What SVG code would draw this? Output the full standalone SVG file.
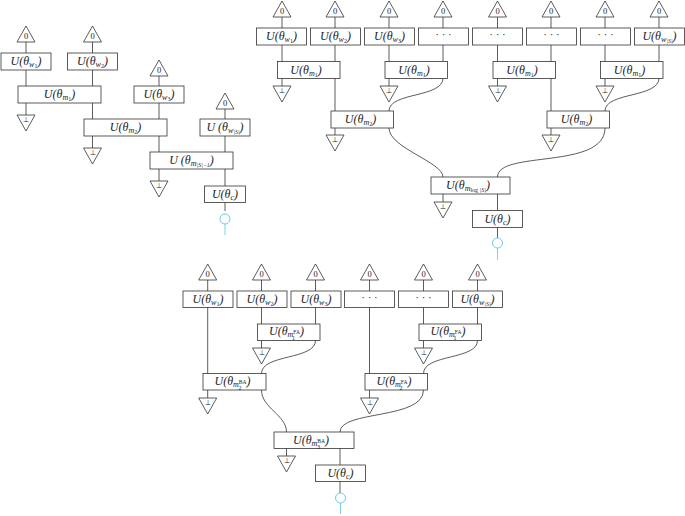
<svg xmlns="http://www.w3.org/2000/svg" width="685" height="516" viewBox="0 0 685 516">
<style>
rect{fill:#fff;stroke:#333;stroke-width:.8}
path{fill:none;stroke:#333;stroke-width:.8}
.tri{fill:#fff}
.q{stroke:#5fc4e0}
circle{fill:#fff;stroke:#5fc4e0;stroke-width:.9}
text{font-family:"Liberation Serif","Times New Roman",serif;font-size:12px;fill:#222;text-anchor:middle;font-style:italic;opacity:.99}
.n{font-style:normal}
.s{font-size:8px}
.ss{font-size:6px}
.d{font-size:6px;font-style:normal}
.sc{font-size:5.500px;font-style:normal}
.dots{font-style:normal;font-size:11px}
</style>
<defs>
<g id="zero"><path class="tri" d="M0 0L9 16H-9Z"/><text class="n" y="12.500" style="font-size:8.500px">0</text></g>
<g id="gnd"><path class="tri" d="M-9 0H9L0 16Z"/><text class="n" y="6.500" style="font-size:7px">⊥</text></g>
</defs>
<g id="connectors">
<path d="M26 42V115M92.500 42V148M159 76V181M225 109V211"/>
<path d="M282 17V86M335 17V111M389 17V86M443 17V62M497.500 17V86M551 17V111M605 17V86M659 17V62"/>
<path d="M443 78C443 98 389 92 389 111M659 78C659 98 605 92 605 111M389 128C389 148 443 162 443 177M443 194V202M605 128C605 170 497.500 150 497.500 177M551 128V135M335 128V135M497.500 194V243"/>
<path d="M207.700 279V398M261.500 279V348M315.500 279V324M369.500 279V398M423.500 279V348M477.500 279V324"/>
<path d="M315.500 340.500C315.500 360 261.500 354 261.500 373.500M477.500 340.500C477.500 360 423.500 354 423.500 373.500M261.500 390C261.500 408 286.500 415 286.500 432M286.500 448V456M423.500 390C423.500 420 340 410 340 432M340 448V493"/>
<path class="q" d="M225 224V235M497.500 248V260M340.500 503V514"/>
</g>
<g id="a-in1"><use href="#zero" x="26" y="26"/><rect x="1" y="53" width="50" height="17"/><text x="26" y="65">U(θ<tspan class="s" dy="2">w<tspan class="d" dy="1">1</tspan></tspan><tspan dy="-3">)</tspan></text></g>
<g id="a-in2"><use href="#zero" x="92.500" y="26"/><rect x="67.500" y="53" width="50" height="17"/><text x="92.500" y="65">U(θ<tspan class="s" dy="2">w<tspan class="d" dy="1">2</tspan></tspan><tspan dy="-3">)</tspan></text></g>
<g id="a-in3"><use href="#zero" x="159" y="60"/><rect x="134" y="86" width="50" height="17"/><text x="159" y="98">U(θ<tspan class="s" dy="2">w<tspan class="d" dy="1">3</tspan></tspan><tspan dy="-3">)</tspan></text></g>
<g id="a-in4"><use href="#zero" x="225" y="93"/><rect x="200" y="119" width="50" height="17"/><text x="225" y="131">U (θ<tspan class="s" dy="2">w<tspan class="ss" dy="1">|S|</tspan></tspan><tspan dy="-3">)</tspan></text></g>
<g id="a-m1"><rect x="18" y="86" width="83" height="17"/><text x="59.500" y="98">U(θ<tspan class="s" dy="2">m<tspan class="d" dy="1">1</tspan></tspan><tspan dy="-3">)</tspan></text><use href="#gnd" x="26" y="115"/></g>
<g id="a-m2"><rect x="84" y="119" width="83" height="17"/><text x="125.500" y="131">U(θ<tspan class="s" dy="2">m<tspan class="d" dy="1">2</tspan></tspan><tspan dy="-3">)</tspan></text><use href="#gnd" x="92.500" y="148"/></g>
<g id="a-m3"><rect x="150" y="152" width="83" height="17"/><text x="191.500" y="164">U (θ<tspan class="s" dy="2">m<tspan class="ss" dy="1">|S|−1</tspan></tspan><tspan dy="-3">)</tspan></text><use href="#gnd" x="159" y="181"/></g>
<g id="a-c"><rect x="204.500" y="186" width="41" height="16.500"/><text x="225" y="198">U(θ<tspan class="s" dy="2">c</tspan><tspan dy="-2">)</tspan></text><circle cx="225" cy="219" r="5"/></g>

<g id="b-in1"><use href="#zero" x="282" y="1"/><rect x="256.500" y="28" width="50" height="17"/><text x="281.500" y="40">U(θ<tspan class="s" dy="2">w<tspan class="d" dy="1">1</tspan></tspan><tspan dy="-3">)</tspan></text></g>
<g id="b-in2"><use href="#zero" x="335" y="1"/><rect x="310.500" y="28" width="50" height="17"/><text x="335.500" y="40">U(θ<tspan class="s" dy="2">w<tspan class="d" dy="1">2</tspan></tspan><tspan dy="-3">)</tspan></text></g>
<g id="b-in3"><use href="#zero" x="389" y="1"/><rect x="364.500" y="28" width="50" height="17"/><text x="389.500" y="40">U(θ<tspan class="s" dy="2">w<tspan class="d" dy="1">3</tspan></tspan><tspan dy="-3">)</tspan></text></g>
<g id="b-in4"><use href="#zero" x="443" y="1"/><rect x="418.500" y="28" width="50" height="17"/><text class="dots" x="443.500" y="38">· · ·</text></g>
<g id="b-in5"><use href="#zero" x="497.500" y="1"/><rect x="472.500" y="28" width="50" height="17"/><text class="dots" x="497.500" y="38">· · ·</text></g>
<g id="b-in6"><use href="#zero" x="551" y="1"/><rect x="526.500" y="28" width="50" height="17"/><text class="dots" x="551.500" y="38">· · ·</text></g>
<g id="b-in7"><use href="#zero" x="605" y="1"/><rect x="580.500" y="28" width="50" height="17"/><text class="dots" x="605.500" y="38">· · ·</text></g>
<g id="b-in8"><use href="#zero" x="659" y="1"/><rect x="634.500" y="28" width="50" height="17"/><text x="659.500" y="40">U(θ<tspan class="s" dy="2">w<tspan class="ss" dy="1">|S|</tspan></tspan><tspan dy="-3">)</tspan></text></g>
<g id="b-m1a"><rect x="277.500" y="61.500" width="62.500" height="17"/><text x="306" y="73.500">U(θ<tspan class="s" dy="2">m<tspan class="d" dy="1">1</tspan></tspan><tspan dy="-3">)</tspan></text><use href="#gnd" x="282" y="86"/></g>
<g id="b-m1b"><rect x="385" y="61.500" width="62.500" height="17"/><text x="414" y="73.500">U(θ<tspan class="s" dy="2">m<tspan class="d" dy="1">1</tspan></tspan><tspan dy="-3">)</tspan></text><use href="#gnd" x="389" y="86"/></g>
<g id="b-m1c"><rect x="493" y="61.500" width="62.500" height="17"/><text x="522" y="73.500">U(θ<tspan class="s" dy="2">m<tspan class="d" dy="1">1</tspan></tspan><tspan dy="-3">)</tspan></text><use href="#gnd" x="497.500" y="86"/></g>
<g id="b-m1d"><rect x="600.500" y="61.500" width="62.500" height="17"/><text x="629.500" y="73.500">U(θ<tspan class="s" dy="2">m<tspan class="d" dy="1">1</tspan></tspan><tspan dy="-3">)</tspan></text><use href="#gnd" x="605" y="86"/></g>
<g id="b-m2a"><rect x="331" y="111" width="62.500" height="17"/><text x="360.500" y="123">U(θ<tspan class="s" dy="2">m<tspan class="d" dy="1">2</tspan></tspan><tspan dy="-3">)</tspan></text><use href="#gnd" x="335" y="135"/></g>
<g id="b-m2b"><rect x="547" y="111" width="62.500" height="17"/><text x="576.500" y="123">U(θ<tspan class="s" dy="2">m<tspan class="d" dy="1">2</tspan></tspan><tspan dy="-3">)</tspan></text><use href="#gnd" x="551" y="135"/></g>
<g id="b-m3"><rect x="431" y="177" width="79" height="17"/><text x="468" y="189">U(θ<tspan class="s" dy="2">m<tspan class="ss" dy="1"><tspan class="n">log</tspan> |S|</tspan></tspan><tspan dy="-3">)</tspan></text><use href="#gnd" x="443" y="202"/></g>
<g id="b-c"><rect x="472.500" y="210.500" width="50" height="17"/><text x="497.500" y="222.500">U(θ<tspan class="s" dy="2">c</tspan><tspan dy="-2">)</tspan></text><circle cx="497.500" cy="243" r="5"/></g>

<g id="c-in1"><use href="#zero" x="207.700" y="264"/><rect x="183" y="291" width="50" height="16.500"/><text x="208" y="303">U(θ<tspan class="s" dy="2">w<tspan class="d" dy="1">1</tspan></tspan><tspan dy="-3">)</tspan></text></g>
<g id="c-in2"><use href="#zero" x="261.500" y="264"/><rect x="237" y="291" width="50" height="16.500"/><text x="262" y="303">U(θ<tspan class="s" dy="2">w<tspan class="d" dy="1">2</tspan></tspan><tspan dy="-3">)</tspan></text></g>
<g id="c-in3"><use href="#zero" x="315.500" y="264"/><rect x="291" y="291" width="50" height="16.500"/><text x="316" y="303">U(θ<tspan class="s" dy="2">w<tspan class="d" dy="1">3</tspan></tspan><tspan dy="-3">)</tspan></text></g>
<g id="c-in4"><use href="#zero" x="369.500" y="264"/><rect x="344.500" y="291" width="50" height="16.500"/><text class="dots" x="369.500" y="301">· · ·</text></g>
<g id="c-in5"><use href="#zero" x="423.500" y="264"/><rect x="398.500" y="291" width="50" height="16.500"/><text class="dots" x="423.500" y="301">· · ·</text></g>
<g id="c-in6"><use href="#zero" x="477.500" y="264"/><rect x="452.500" y="291" width="50" height="16.500"/><text x="477.500" y="303">U(θ<tspan class="s" dy="2">w<tspan class="ss" dy="1">|S|</tspan></tspan><tspan dy="-3">)</tspan></text></g>
<g id="c-m1a"><rect x="257.500" y="324" width="62.500" height="16.500"/><text x="286.500" y="335">U(θ<tspan class="s" dy="2">m</tspan><tspan class="sc" dy="-3">FA</tspan><tspan class="d" dx="-8" dy="6">1</tspan><tspan dx="5" dy="-5">)</tspan></text><use href="#gnd" x="261.500" y="348"/></g>
<g id="c-m1b"><rect x="419" y="324" width="62.500" height="16.500"/><text x="448" y="335">U(θ<tspan class="s" dy="2">m</tspan><tspan class="sc" dy="-3">FA</tspan><tspan class="d" dx="-8" dy="6">1</tspan><tspan dx="5" dy="-5">)</tspan></text><use href="#gnd" x="423.500" y="348"/></g>
<g id="c-m2a"><rect x="203" y="373.500" width="63" height="16.500"/><text x="232.500" y="385">U(θ<tspan class="s" dy="2">m</tspan><tspan class="sc" dy="-3">BA</tspan><tspan class="d" dx="-8" dy="6">2</tspan><tspan dx="5" dy="-5">)</tspan></text><use href="#gnd" x="207.700" y="398"/></g>
<g id="c-m2b"><rect x="365" y="373.500" width="62.500" height="16.500"/><text x="394" y="385">U(θ<tspan class="s" dy="2">m</tspan><tspan class="sc" dy="-3">FA</tspan><tspan class="d" dx="-8" dy="6">2</tspan><tspan dx="5" dy="-5">)</tspan></text><use href="#gnd" x="369.500" y="398"/></g>
<g id="c-m3"><rect x="274" y="432" width="80" height="16.500"/><text x="311" y="443.500">U(θ<tspan class="s" dy="2">m</tspan><tspan class="sc" dy="-3">BA</tspan><tspan class="d" dx="-8" dy="6">3</tspan><tspan dx="5" dy="-5">)</tspan></text><use href="#gnd" x="286.500" y="456"/></g>
<g id="c-c"><rect x="315.500" y="465" width="50" height="16.500"/><text x="340.500" y="477">U(θ<tspan class="s" dy="2">c</tspan><tspan dy="-2">)</tspan></text><circle cx="340.500" cy="498" r="5"/></g>
</svg>
